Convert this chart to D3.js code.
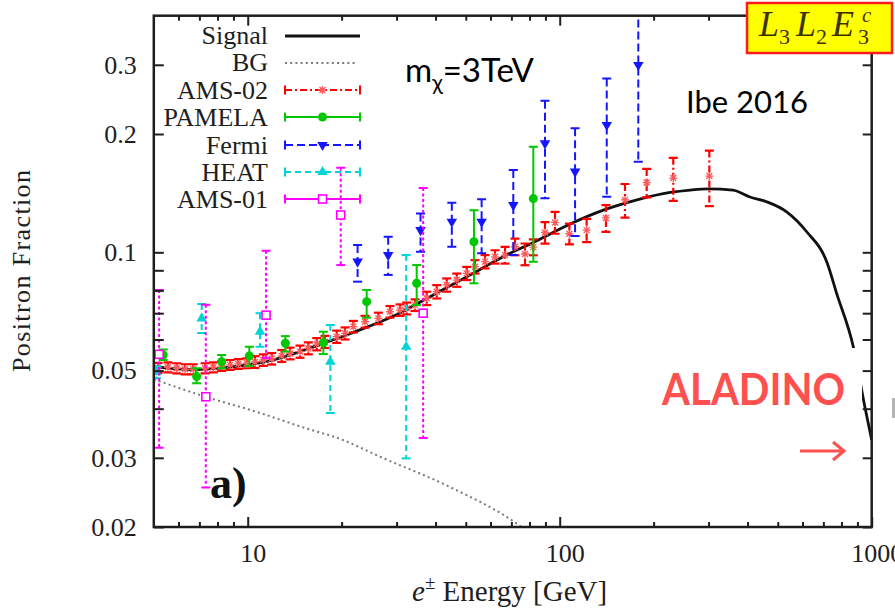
<!DOCTYPE html>
<html><head><meta charset="utf-8">
<script src="https://cdn.jsdelivr.net/npm/d3@7"></script>
<style>body{margin:0;background:#fff}svg{display:block}</style>
</head><body>
<svg id="chart" width="895" height="610"></svg>
<script>
// ---------------- data ----------------
// model curves (energy in GeV, positron fraction)
const sigE = [5, 5.16, 6.69, 7.76, 10, 12.0, 14.7, 18.8, 24.1, 30.8, 39.3, 50.3, 65.7, 84.5, 108, 138, 177, 226, 262, 300, 359, 407, 460, 535, 619, 719, 772, 873, 951, 1000];
const sigV = [0.0512, 0.0510, 0.0503, 0.0506, 0.0517, 0.0532, 0.0559, 0.0599, 0.0645, 0.0701, 0.0779, 0.0866, 0.0973, 0.107, 0.118, 0.128, 0.136, 0.142, 0.144, 0.145, 0.144, 0.1383, 0.1345, 0.1266, 0.1128, 0.0942, 0.0786, 0.0575, 0.0404, 0.0333];
const bgE = [5, 5.24, 7.39, 10.2, 16.6, 18.8, 27.3, 44.4, 72.8, 76];
const bgV = [0.0475, 0.0469, 0.0428, 0.0397, 0.0350, 0.0340, 0.0299, 0.0253, 0.0204, 0.0199];

// AMS-02
const ams02E = [5.16,5.55,5.92,6.30,6.69,7.30,7.76,8.25,8.78,9.33,9.93,10.55,11.22,11.94,12.85,13.67,14.71,15.64,16.64,17.69,19.29,20.51,
  21.81,23.77,26.23,28.58,30.77,32.33,34.38,37.47,40.36,43.43,46.77,50.34,53.51,57.63,62.04,
  66.8,71.9,77.4,82.3,89.7,96.6,107.4,122.0,140.7,161.9,190.0,231.2,301.7];
const ams02V = [0.0508,0.0510,0.0507,0.0504,0.0504,0.0507,0.0510,0.0514,0.0517,0.0520,0.0522,0.0526,0.0532,0.0536,0.0545,0.0553,0.0559,0.0570,0.0584,0.0592,0.0610,0.0622,
  0.0647,0.0666,0.0679,0.0706,0.0713,0.0720,0.0734,0.0764,0.0794,0.0826,0.0850,0.0884,0.0919,0.0947,0.0974,
  0.0984,0.1033,0.0990,0.1031,0.1123,0.1191,0.1115,0.1139,0.1223,0.1359,0.1505,0.1545,0.1563];
const ams02Err = [0.0015,0.0015,0.0015,0.0015,0.0015,0.0015,0.0015,0.0015,0.0015,0.0015,0.0015,0.0018,0.0018,0.0018,0.0019,0.0019,0.0020,0.0020,0.0021,0.0021,0.0022,0.0022,
  0.0022,0.0023,0.0023,0.0024,0.0024,0.0025,0.0025,0.0030,0.0031,0.0032,0.0033,0.0034,0.0036,0.0037,0.0038,
  0.0048,0.0050,0.0063,0.0048,0.0071,0.0076,0.0068,0.0078,0.0096,0.0133,0.0125,0.0194,0.0252];

// PAMELA
const pamelaE  = [5.36, 6.86, 8.25, 10.12, 13.2, 17.47, 24.06, 34.8, 53.1, 82.3];
const pamelaV  = [0.0548, 0.0483, 0.0527, 0.0545, 0.0587, 0.0589, 0.0749, 0.0834, 0.1064, 0.137];
const pamelaLo = [0.0532, 0.0464, 0.0507, 0.0514, 0.0559, 0.0551, 0.0682, 0.0734, 0.0834, 0.0946];
const pamelaHi = [0.0566, 0.0507, 0.0548, 0.0575, 0.0612, 0.0628, 0.0802, 0.0928, 0.128, 0.1856];

// Fermi
const fermiE  = [22.5, 28.2, 35.8, 45.1, 56.2, 71.0, 89.7, 112, 141.5, 178.6];
const fermiV  = [0.0947, 0.0984, 0.1139, 0.1196, 0.1196, 0.1319, 0.1894, 0.1604, 0.2108, 0.2996];
const fermiLo = [0.0842, 0.0876, 0.1004, 0.1033, 0.0994, 0.0984, 0.1372, 0.110, 0.1385, 0.170];
const fermiHi = [0.1043, 0.1096, 0.1256, 0.1337, 0.1364, 0.162, 0.243, 0.2068, 0.277, 0.45];

// HEAT
const heatE  = [5.1, 7.12, 10.95, 18.4, 32.2];
const heatV  = [0.0495, 0.0679, 0.0628, 0.0527, 0.0575];
const heatLo = [0.0478, 0.0623, 0.0575, 0.0390, 0.0299];
const heatHi = [0.0512, 0.0739, 0.0700, 0.0653, 0.0984];

// AMS-01
const ams01E  = [5.2, 7.34, 11.45, 19.87, 36.5];
const ams01V  = [0.055, 0.0429, 0.0692, 0.1244, 0.070];
const ams01Lo = [0.0318, 0.0252, 0.0538, 0.0928, 0.0337];
const ams01Hi = [0.0802, 0.0735, 0.1009, 0.164, 0.1458];

// axes
const xTicksMajor = [10, 100, 1000];
const xTicksMinor = [6,7,8,9,20,30,40,50,60,70,80,90,200,300,400,500,600,700,800,900];
const yTicksLabeled = [0.02, 0.03, 0.05, 0.1, 0.2, 0.3];
const yTicksMinor = [0.04, 0.06, 0.07, 0.08, 0.09];
const legendLabels = ["Signal", "BG", "AMS-02", "PAMELA", "Fermi", "HEAT", "AMS-01"];

// ---------------- drawing ----------------
const svg = d3.select("#chart");
const L = 153.8, R = 871.7, T = 15.7, B = 527;
const x = d3.scaleLog().domain([5, 1000]).range([L, R]);
const y = d3.scaleLog().domain([0.02, 0.4]).range([B, T]);
const serif = "'Liberation Serif', 'Times New Roman', serif";
const ink = "#1e1e1e";

svg.append("defs").append("clipPath").attr("id", "plotClip")
  .append("rect").attr("x", L).attr("y", T).attr("width", R - L).attr("height", B - T);

const plot = svg.append("g").attr("clip-path", "url(#plotClip)");

const line = d3.line().x(d => x(d[0])).y(d => y(d[1])).curve(d3.curveMonotoneX);

// signal and background
plot.append("path").datum(sigE.map((e, i) => [e, sigV[i]]))
  .attr("d", line).attr("fill", "none").attr("stroke", "#111").attr("stroke-width", 2.8);
plot.append("path").datum(bgE.map((e, i) => [e, bgV[i]]))
  .attr("d", line).attr("fill", "none").attr("stroke", "#7a7a7a").attr("stroke-width", 2)
  .attr("stroke-dasharray", "2,3.2");

// marker painters
const markers = {
  star: (g, c) => g.append("path").attr("d", "M-4,0H4M0,-4V4M-3,-3L3,3M-3,3L3,-3")
    .attr("stroke", "#ff5a5a").attr("stroke-width", 1.3).attr("fill", "none"),
  circle: (g, c) => g.append("circle").attr("r", 4.5).attr("fill", c),
  down: (g, c) => g.append("path").attr("d", d3.symbol(d3.symbolTriangle, 48)())
    .attr("transform", "rotate(180)").attr("fill", c),
  up: (g, c) => g.append("path").attr("d", d3.symbol(d3.symbolTriangle, 48)()).attr("fill", c),
  square: (g, c) => g.append("rect").attr("x", -4).attr("y", -4).attr("width", 8).attr("height", 8)
    .attr("fill", "#fff").attr("stroke", c).attr("stroke-width", 1.6)
};

function drawSeries(E, V, Lo, Hi, color, dash, marker, sw) {
  const pts = E.map((e, i) => ({ e, v: V[i], lo: Lo[i], hi: Hi[i] }));
  const g = plot.append("g");
  g.selectAll("line.bar").data(pts).join("line").attr("class", "bar")
    .attr("x1", d => x(d.e)).attr("x2", d => x(d.e))
    .attr("y1", d => y(d.hi)).attr("y2", d => y(d.lo))
    .attr("stroke", color).attr("stroke-width", sw).attr("stroke-dasharray", dash);
  ["lo", "hi"].forEach(k => {
    g.selectAll("line.cap" + k).data(pts).join("line").attr("class", "cap" + k)
      .attr("x1", d => x(d.e) - 4.5).attr("x2", d => x(d.e) + 4.5)
      .attr("y1", d => y(d[k])).attr("y2", d => y(d[k]))
      .attr("stroke", color).attr("stroke-width", sw);
  });
  g.selectAll("g.pt").data(pts).join("g").attr("class", "pt")
    .attr("transform", d => `translate(${x(d.e)},${y(d.v)})`)
    .each(function () { markers[marker](d3.select(this), color); });
}

drawSeries(ams02E, ams02V, ams02V.map((v, i) => v - ams02Err[i]), ams02V.map((v, i) => v + ams02Err[i]),
  "#ff0000", "7,3,2,3", "star", 2.2);
drawSeries(pamelaE, pamelaV, pamelaLo, pamelaHi, "#00c800", null, "circle", 2);
drawSeries(fermiE, fermiV, fermiLo, fermiHi, "#1515ff", "8,4", "down", 2);
drawSeries(heatE, heatV, heatLo, heatHi, "#00d4d4", "6,4", "up", 2);
drawSeries(ams01E, ams01V, ams01Lo, ams01Hi, "#ff00ff", "3,2.5", "square", 2);

// annotation box with label and arrow
svg.append("rect").attr("x", 640).attr("y", 348).attr("width", 222).attr("height", 122).attr("fill", "#fff");
svg.append("text").attr("x", 662).attr("y", 405).text("ALADINO")
  .attr("font-family", "Lato, 'Open Sans', sans-serif").attr("font-weight", 700).attr("font-size", 43)
  .attr("fill", "#ff5050").attr("textLength", 183).attr("lengthAdjust", "spacingAndGlyphs");
svg.append("path").attr("d", "M800,451H844M833,442L844,451L833,460")
  .attr("fill", "none").attr("stroke", "#ff5050").attr("stroke-width", 3);
svg.append("rect").attr("x", 892).attr("y", 398).attr("width", 3).attr("height", 20).attr("fill", "#b5b5b5");

// axes (ticks point inwards)
function styleAxis(g) { g.select(".domain").remove(); g.selectAll(".tick line").attr("stroke", ink).attr("stroke-width", 2); }
svg.append("g").attr("transform", `translate(0,${B})`)
  .call(d3.axisBottom(x).tickValues(xTicksMajor).tickSize(-10).tickPadding(17).tickFormat(d3.format("d")))
  .call(styleAxis)
  .call(g => g.selectAll("text").attr("font-family", serif).attr("font-size", 26).attr("fill", ink).attr("dx", 5));
svg.append("g").attr("transform", `translate(0,${B})`)
  .call(d3.axisBottom(x).tickValues(xTicksMinor).tickSize(-5).tickFormat("")).call(styleAxis);
svg.append("g").attr("transform", `translate(0,${T})`)
  .call(d3.axisTop(x).tickValues(xTicksMajor).tickSize(-10).tickFormat("")).call(styleAxis);
svg.append("g").attr("transform", `translate(0,${T})`)
  .call(d3.axisTop(x).tickValues(xTicksMinor).tickSize(-5).tickFormat("")).call(styleAxis);
svg.append("g").attr("transform", `translate(${L},0)`)
  .call(d3.axisLeft(y).tickValues(yTicksLabeled).tickSize(-10).tickPadding(17).tickFormat(d => String(d)))
  .call(styleAxis)
  .call(g => g.selectAll("text").attr("font-family", serif).attr("font-size", 26).attr("fill", ink));
svg.append("g").attr("transform", `translate(${L},0)`)
  .call(d3.axisLeft(y).tickValues(yTicksMinor).tickSize(-10).tickFormat("")).call(styleAxis);
svg.append("g").attr("transform", `translate(${R},0)`)
  .call(d3.axisRight(y).tickValues(yTicksLabeled.concat(yTicksMinor)).tickSize(-9).tickFormat("")).call(styleAxis);

svg.append("rect").attr("x", L).attr("y", T).attr("width", R - L).attr("height", B - T)
  .attr("fill", "none").attr("stroke", ink).attr("stroke-width", 2.5);

// axis titles
const xt = svg.append("text").attr("x", 412).attr("y", 601).attr("font-family", serif).attr("font-size", 29).attr("fill", ink);
xt.append("tspan").attr("font-style", "italic").text("e");
xt.append("tspan").attr("font-size", 19).attr("dy", -12).text("±");
xt.append("tspan").attr("dy", 12).text(" Energy [GeV]");
svg.append("text").attr("transform", "translate(30,271) rotate(-90)").attr("text-anchor", "middle")
  .attr("font-family", serif).attr("font-size", 26).attr("fill", ink)
  .attr("textLength", 202).attr("lengthAdjust", "spacing").text("Positron Fraction");

// legend
const rowY = [35, 62, 90, 117, 145, 172, 199];
const lg = svg.append("g");
legendLabels.forEach((lab, i) => {
  lg.append("text").attr("x", 268).attr("y", rowY[i] + 9).attr("text-anchor", "end")
    .attr("font-family", serif).attr("font-size", 26).attr("fill", ink).text(lab);
});
const x0 = 285, x1 = 360, xm = 322.5;
lg.append("line").attr("x1", x0).attr("x2", x1).attr("y1", rowY[0] + 1).attr("y2", rowY[0] + 1)
  .attr("stroke", "#111").attr("stroke-width", 3);
lg.append("line").attr("x1", x0).attr("x2", x1 - 3).attr("y1", rowY[1] + 1).attr("y2", rowY[1] + 1)
  .attr("stroke", "#7a7a7a").attr("stroke-width", 2).attr("stroke-dasharray", "2,3.2");
const samples = [
  { c: "#ff0000", dash: "7,3,2,3", m: "star" },
  { c: "#00c800", dash: null, m: "circle" },
  { c: "#1515ff", dash: "8,4", m: "down" },
  { c: "#00d4d4", dash: "6,4", m: "up" },
  { c: "#ff00ff", dash: null, m: "square" }
];
samples.forEach((s, k) => {
  const yy = rowY[k + 2];
  lg.append("line").attr("x1", x0).attr("x2", x1).attr("y1", yy).attr("y2", yy)
    .attr("stroke", s.c).attr("stroke-width", 2).attr("stroke-dasharray", s.dash);
  [x0, x1].forEach(xx => lg.append("line").attr("x1", xx).attr("x2", xx).attr("y1", yy - 4.5).attr("y2", yy + 4.5)
    .attr("stroke", s.c).attr("stroke-width", 2));
  const mg = lg.append("g").attr("transform", `translate(${xm},${yy})`);
  markers[s.m](mg, s.c);
});

// in-plot labels
svg.append("text").attr("x", 210).attr("y", 498).attr("font-family", serif).attr("font-weight", 700)
  .attr("font-size", 44).attr("fill", "#111").text("a)");
const mt = svg.append("text").attr("x", 405).attr("y", 82).attr("font-family", "Lato, 'Open Sans', sans-serif")
  .attr("font-size", 33).attr("fill", "#000");
mt.append("tspan").text("m");
mt.append("tspan").attr("font-size", 22).attr("dy", 8).text("χ");
mt.append("tspan").attr("dy", -8).text("=3TeV");
svg.append("text").attr("x", 686).attr("y", 113).attr("font-family", "Lato, 'Open Sans', sans-serif")
  .attr("font-size", 31).attr("fill", "#000").text("Ibe 2016");

// model tag box
svg.append("rect").attr("x", 747).attr("y", 3).attr("width", 145).attr("height", 50)
  .attr("fill", "#ffff00").attr("stroke", "#ff1a1a").attr("stroke-width", 2.5);
const tag = svg.append("g").attr("font-family", serif).attr("fill", "#3d3300");
const tagParts = [
  { t: "L", x: 759, y: 36, s: 36, i: true },
  { t: "3", x: 779, y: 44, s: 22 },
  { t: "L", x: 796, y: 36, s: 36, i: true },
  { t: "2", x: 816, y: 44, s: 22 },
  { t: "E", x: 832, y: 36, s: 36, i: true },
  { t: "c", x: 862, y: 22, s: 21, i: true },
  { t: "3", x: 858, y: 44, s: 22 }
];
tagParts.forEach(p => tag.append("text").attr("x", p.x).attr("y", p.y).attr("font-size", p.s)
  .attr("font-style", p.i ? "italic" : "normal").text(p.t));
</script>
</body></html>
